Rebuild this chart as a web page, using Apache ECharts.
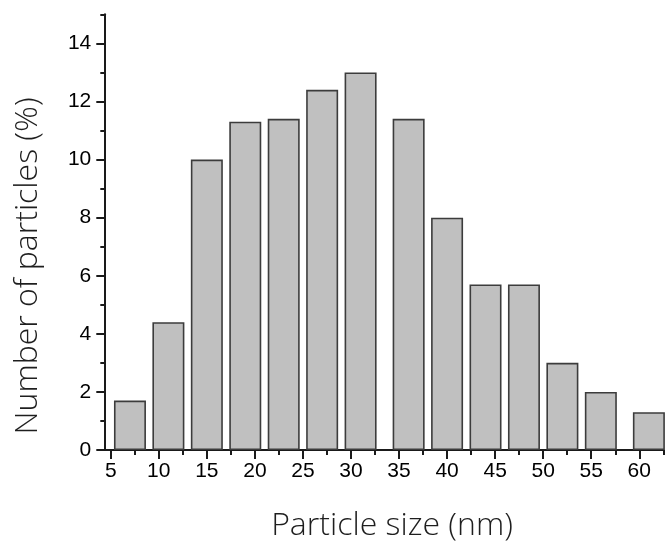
<!DOCTYPE html>
<html>
<head>
<meta charset="utf-8">
<script src="https://cdn.jsdelivr.net/npm/echarts@6/dist/echarts.min.js"></script>
<style>
  html, body { margin: 0; padding: 0; background: #fff; }
  #chart { width: 670px; height: 545px; }
</style>
</head>
<body>
<div id="chart"></div>
<script>
// Particle size distribution (histogram)
const binCenters = [7, 11, 15, 19, 23, 27, 31, 36, 40, 44, 48, 52, 56, 61];
const percentages = [1.7, 4.4, 10.0, 11.3, 11.4, 12.4, 13.0, 11.4, 8.0, 5.7, 5.7, 3.0, 2.0, 1.3];
const xMajorTicks = [5, 10, 15, 20, 25, 30, 35, 40, 45, 50, 55, 60];
const xMinorTicks = [7.5, 12.5, 17.5, 22.5, 27.5, 32.5, 37.5, 42.5, 47.5, 52.5, 57.5, 62.5];
const yMajorTicks = [0, 2, 4, 6, 8, 10, 12, 14];
const yMinorTicks = [1, 3, 5, 7, 9, 11, 13, 15];
const xRange = [4.33, 62.5];
const yRange = [0, 15];

const axisColor = '#1a1a1a';
const labelFont = { fontFamily: 'Liberation Sans', fontSize: 21, color: '#000' };
const titleFont = '300 32px "Open Sans"';

const chart = echarts.init(document.getElementById('chart'), null, { renderer: 'canvas' });

chart.setOption({
  backgroundColor: '#fff',
  animation: false,
  grid: { left: 104.3, right: 6.7, top: 14.3, bottom: 95, containLabel: false },
  xAxis: [
    {
      type: 'value', min: xRange[0], max: xRange[1],
      axisLine: { show: true, onZero: false, lineStyle: { color: axisColor, width: 2 } },
      axisTick: { show: true, customValues: xMajorTicks, length: 9, lineStyle: { color: axisColor, width: 2 } },
      axisLabel: { show: true, customValues: xMajorTicks, margin: 11, ...labelFont },
      splitLine: { show: false }
    },
    {
      type: 'value', min: xRange[0], max: xRange[1], position: 'bottom',
      axisLine: { show: false },
      axisTick: { show: true, customValues: xMinorTicks, length: 5, lineStyle: { color: axisColor, width: 2 } },
      axisLabel: { show: false },
      splitLine: { show: false }
    }
  ],
  yAxis: [
    {
      type: 'value', min: yRange[0], max: yRange[1],
      axisLine: { show: true, onZero: false, lineStyle: { color: axisColor, width: 2 } },
      axisTick: { show: true, customValues: yMajorTicks, length: 8, lineStyle: { color: axisColor, width: 2 } },
      axisLabel: { show: true, customValues: yMajorTicks, margin: 13, ...labelFont },
      splitLine: { show: false }
    },
    {
      type: 'value', min: yRange[0], max: yRange[1], position: 'left',
      axisLine: { show: false },
      axisTick: { show: true, customValues: yMinorTicks, length: 4, lineStyle: { color: axisColor, width: 2 } },
      axisLabel: { show: false },
      splitLine: { show: false }
    }
  ],
  series: [
    {
      type: 'bar',
      xAxisIndex: 0,
      yAxisIndex: 0,
      barWidth: 32,
      data: binCenters.map((c, i) => [c, percentages[i]]),
      itemStyle: { color: '#c0c0c0', borderColor: '#3c3c3c', borderWidth: 1.6 }
    }
  ],
  graphic: [
    {
      type: 'text', x: 392, y: 526,
      style: { text: 'Particle size (nm)', font: titleFont, fill: '#1e1e1e', textAlign: 'center', textVerticalAlign: 'middle' }
    },
    {
      type: 'text', x: 28, y: 266, rotation: Math.PI / 2,
      style: { text: 'Number of particles (%)', font: titleFont, fill: '#1e1e1e', textAlign: 'center', textVerticalAlign: 'middle' }
    }
  ]
});
</script>
</body>
</html>
